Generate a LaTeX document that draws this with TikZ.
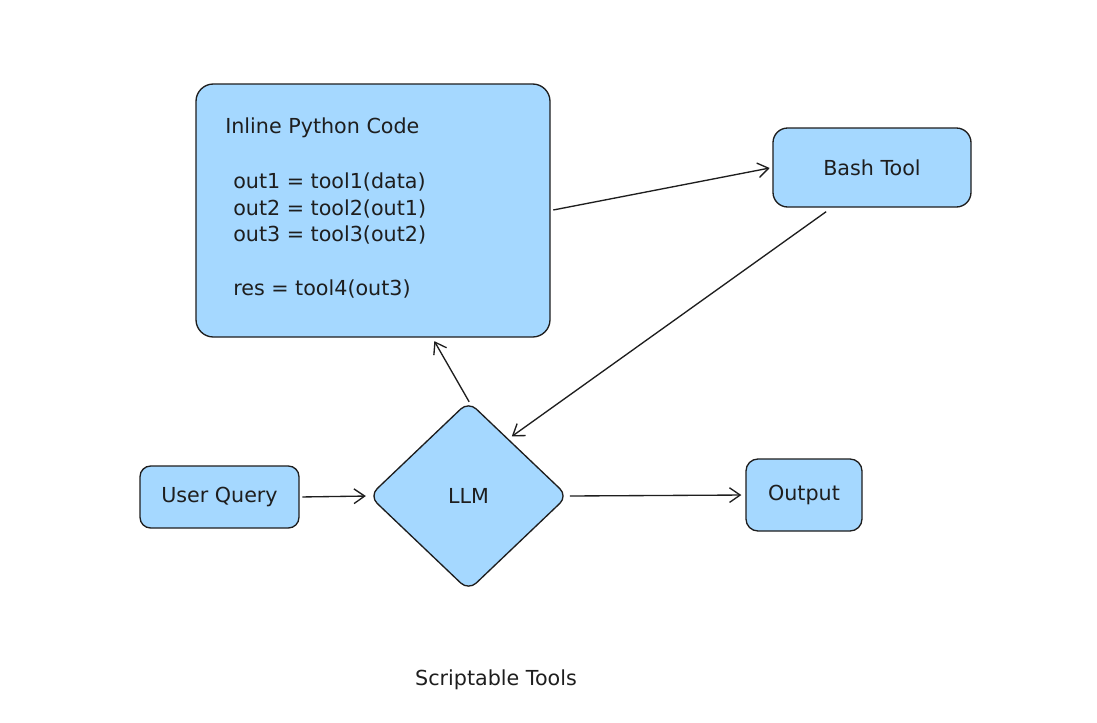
\documentclass[tikz,border=0pt]{standalone}
\usepackage{fontspec}
\setmainfont{DejaVu Sans}
\usetikzlibrary{shapes.geometric,arrows.meta,calc}
\definecolor{boxblue}{HTML}{A5D8FF}
\definecolor{ink}{HTML}{1E1E1E}
\begin{document}
\begin{tikzpicture}[x=0.75pt,y=-0.75pt,
  every node/.style={text=ink},
  box/.style={draw=ink, fill=boxblue, line width=1pt, inner sep=0pt},
  lbl/.style={font=\fontsize{15.5}{19}\selectfont},
  codeline/.style={font=\fontsize{15.5}{19}\selectfont, anchor=base west, inner sep=0pt},
  conn/.style={draw=ink, line width=1pt, -{Straight Barb[length=8pt,width=11pt,line width=1pt]}}]
\fill[white] (0,0) rectangle (1097,722);
\useasboundingbox (0,0) rectangle (1097,722);

\node[box, rounded corners=13pt, minimum width=265.5pt, minimum height=189.75pt] (py) at (373,210.5) {};
\node[codeline] (t0) at (225,133) {Inline Python Code};
\node[codeline] (t1) at (233,188) {out1 = tool1(data)};
\node[codeline] (t2) at (233,215) {out2 = tool2(out1)};
\node[codeline] (t3) at (233,241) {out3 = tool3(out2)};
\node[codeline] (t4) at (233,295) {res = tool4(out3)};

\node[box, rounded corners=11pt, minimum width=148.5pt, minimum height=59.25pt, lbl] (bash) at (872,167.5) {Bash Tool};
\node[box, rounded corners=8pt, minimum width=119.25pt, minimum height=46.5pt, lbl] (uq) at (219.5,497) {User Query};
\node[box, rounded corners=9pt, minimum width=87pt, minimum height=54pt, lbl] (out) at (804,495) {Output};
\node[box, diamond, aspect=1, rounded corners=8pt, minimum width=149pt, minimum height=142pt, lbl] (llm) at (468.5,496) {LLM};

\node[lbl] (title) at (496,680) {Scriptable Tools};

\coordinate (bashfoot) at ($(bash.south west)!0.27!(bash.south east)+(0,4)$);
\coordinate (pyfoot) at ($(py.south west)!0.667!(py.south east)$);

\draw[conn, shorten >=2pt, shorten <=2pt] (uq.east) -- (llm.west);
\draw[conn, shorten >=3pt, shorten <=1pt] (llm.east) -- (out.west);
\draw[conn, shorten >=3pt, shorten <=-1pt] (llm.north) -- (pyfoot);
\draw[conn, shorten >=2pt, shorten <=2pt] (py.east) -- (bash.west);
\draw[conn, shorten >=3pt] (bashfoot) -- ($(llm.north)!0.4!(llm.east)$);
\end{tikzpicture}
\end{document}
